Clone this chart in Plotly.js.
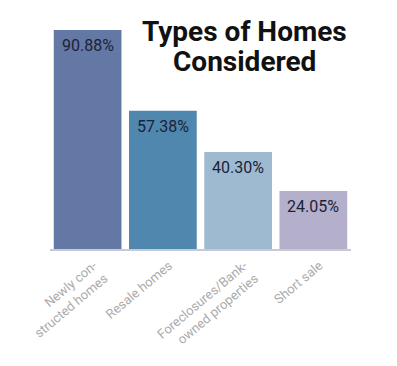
<!DOCTYPE html>
<html>
<head>
<meta charset="utf-8">
<script src="https://cdn.plot.ly/plotly-3.0.1.min.js"></script>
<style>html,body{margin:0;padding:0;background:#fff;}#chart{width:397px;height:366px;}</style>
</head>
<body>
<div id="chart"></div>
<script>
var categories = ["Newly con-<br>structed homes", "Resale homes", "Foreclosures/Bank-<br>owned properties", "Short sale"];
var values = [90.88, 57.38, 40.30, 24.05];
var valueLabels = ["90.88%", "57.38%", "40.30%", "24.05%"];
var barColors = ["#6478a6", "#4f87ae", "#9dbad0", "#b4afcb"];
var titleLines = ["Types of Homes", "Considered"];

var fontFam = 'Roboto, "Liberation Sans", Arial, sans-serif';

var trace = {
  type: "bar",
  x: categories,
  y: values,
  marker: {color: barColors},
  hoverinfo: "none"
};

var annotations = categories.map(function (c, i) {
  return {
    x: c, y: values[i], xref: "x", yref: "y",
    text: valueLabels[i], showarrow: false,
    xanchor: "center", yanchor: "top", yshift: -4,
    font: {family: fontFam, size: 16, color: "#1c2236"}
  };
});
var titleX = (244 - 50) / (397 - 50 - 46);
var titleY = [(249 - 32) / 241, (249 - 61) / 241];
titleLines.forEach(function (t, i) {
  annotations.push({
    x: titleX, xref: "paper", y: titleY[i], yref: "paper",
    text: "<b>" + t + "</b>", showarrow: false,
    xanchor: "center", yanchor: "middle",
    font: {family: fontFam, size: 28, color: "#111111"}
  });
});

var layout = {
  width: 397,
  height: 366,
  margin: {l: 50, r: 46, t: 8, b: 117},
  paper_bgcolor: "#ffffff",
  plot_bgcolor: "#ffffff",
  bargap: 0.1,
  showlegend: false,
  annotations: annotations,
  xaxis: {
    tickangle: -40,
    tickfont: {family: fontFam, size: 13, color: "#ababab"},
    ticklabelshift: 6,
    ticklabelstandoff: 2,
    showline: true,
    linecolor: "#c5cad6",
    linewidth: 2,
    ticks: "",
    showgrid: false,
    zeroline: false
  },
  yaxis: {
    range: [0, 100],
    visible: false,
    showgrid: false,
    zeroline: false
  }
};

Plotly.newPlot("chart", [trace], layout, {displayModeBar: false, staticPlot: true});
</script>
</body>
</html>
